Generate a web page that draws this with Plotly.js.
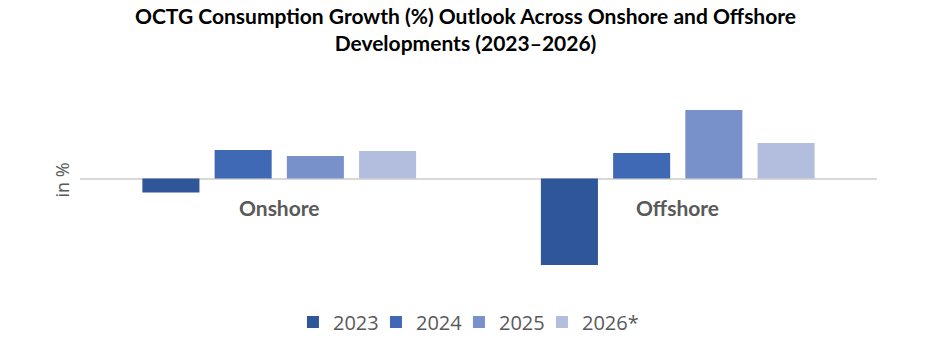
<!DOCTYPE html>
<html>
<head>
<meta charset="utf-8">
<script src="https://cdn.plot.ly/plotly-3.0.1.min.js"></script>
<style>html,body{margin:0;padding:0;background:#fff;}#chart{width:931px;height:355px;}</style>
</head>
<body>
<div id="chart"></div>
<script>
const categories = ["Onshore", "Offshore"];
const seriesNames = ["2023", "2024", "2025", "2026*"];
const values2023 = [-1.4, -8.65];
const values2024 = [2.85, 2.55];
const values2025 = [2.25, 6.85];
const values2026 = [2.75, 3.55];
const seriesValues = [values2023, values2024, values2025, values2026];
const colors = ["#30569A", "#3F69B5", "#7891CB", "#B3BEDF"];

const traces = seriesNames.map((name, i) => ({
  type: "bar",
  name: name,
  x: categories,
  y: seriesValues[i],
  marker: { color: colors[i] },
  hoverinfo: "skip"
}));
// invisible spacer legend entry so the last label is not clipped by the fixed entry width
traces.push({
  type: "scatter", mode: "markers", x: [null], y: [null],
  name: "\u00a0",
  marker: { color: "rgba(0,0,0,0)", line: { color: "rgba(0,0,0,0)", width: 0 } },
  hoverinfo: "skip"
});

const annotations = categories.map(c => ({
  x: c, y: 0, xref: "x", yref: "y",
  text: "<b>" + c + "</b>", showarrow: false,
  yanchor: "middle", yshift: -28.5,
  font: { family: "Lato, 'Open Sans', sans-serif", size: 21, color: "#595959" }
}));

const layout = {
  width: 931, height: 355,
  margin: { l: 80, r: 54, t: 80, b: 75 },
  paper_bgcolor: "#fff", plot_bgcolor: "#fff",
  barmode: "group",
  bargap: 0.275,
  bargroupgap: 0.21,
  title: {
    text: "<b>OCTG Consumption Growth (%) Outlook Across Onshore and Offshore<br>Developments (2023\u20132026)</b>",
    x: 0.5, xanchor: "center",
    y: 0.932, yref: "container", yanchor: "top",
    font: { family: "Lato, 'Open Sans', sans-serif", size: 21, color: "#000" }
  },
  xaxis: {
    showticklabels: false, showgrid: false, zeroline: false, showline: false, ticks: ""
  },
  yaxis: {
    range: [-10.15, 9.85],
    showticklabels: false, showgrid: false, ticks: "",
    zeroline: true, zerolinecolor: "#d9d9d9", zerolinewidth: 2,
    title: { text: "in %", standoff: 4, font: { family: "'Open Sans', sans-serif", size: 18, color: "#595959" } }
  },
  showlegend: true,
  legend: {
    orientation: "h", x: 0.2672, xanchor: "left", y: -0.21, yanchor: "middle",
    font: { family: "'Open Sans', sans-serif", size: 20, color: "#595959" },
    traceorder: "normal", itemwidth: 30,
    entrywidth: 38, entrywidthmode: "pixels"
  },
  annotations: annotations
};

Plotly.newPlot("chart", traces, layout, { staticPlot: true, displayModeBar: false });
</script>
</body>
</html>
